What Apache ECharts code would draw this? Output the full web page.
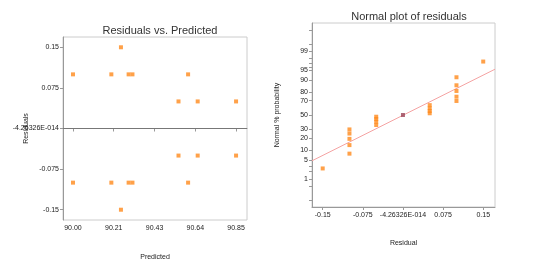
<!DOCTYPE html>
<html>
<head>
<meta charset="utf-8">
<script src="https://cdn.jsdelivr.net/npm/echarts@6/dist/echarts.min.js"></script>
<style>
  html, body { margin: 0; padding: 0; background: #fff; }
  #chart { width: 560px; height: 267px; }
</style>
</head>
<body>
<div id="chart"></div>
<script>
// residuals vs predicted (left panel)
var predicted = [90.00, 90.20, 90.25, 90.29, 90.31, 90.55, 90.60, 90.65, 90.85,
                 90.00, 90.20, 90.25, 90.29, 90.31, 90.55, 90.60, 90.65, 90.85];
var residuals = [0.10, 0.10, 0.15, 0.10, 0.10, 0.05, 0.10, 0.05, 0.05,
                 -0.10, -0.10, -0.15, -0.10, -0.10, -0.05, -0.10, -0.05, -0.05];
var predTicks = [90.00, 90.2125, 90.425, 90.6375, 90.85];
var predTickLabels = ['90.00', '90.21', '90.43', '90.64', '90.85'];
var resTicks = [-0.15, -0.075, 0, 0.075, 0.15];
var resTickLabels = ['-0.15', '-0.075', '-4.26326E-014', '0.075', '0.15'];

// normal probability plot (right panel)
var normRes = [-0.15, -0.10, -0.10, -0.10, -0.10, -0.10, -0.05, -0.05, -0.05, -0.05,
               0.05, 0.05, 0.05, 0.05, 0.10, 0.10, 0.10, 0.10, 0.10, 0.15];
var normPct = [2.6, 8.0, 13.7, 19.3, 25.0, 30.0, 35.8, 40.4, 44.2, 47.5,
               52.5, 55.8, 59.6, 64.0, 69.5, 74.7, 80.9, 86.0, 91.5, 97.4];
var midRes = [0];
var midPct = [50];
var fitRes = [-0.17, 0.172];
var fitPct = [4.8, 95.2];
var probTicks = [1, 5, 10, 20, 30, 50, 70, 80, 90, 95, 99];
var probMinor = [0.1, 0.5, 2, 3, 96, 97, 98, 99.5, 99.9];

// inverse normal cdf (Acklam) for the probability scale
function qnorm(p) {
  var a = [-39.69683028665376, 220.9460984245205, -275.9285104469687, 138.3577518672690, -30.66479806614716, 2.506628277459239];
  var b = [-54.47609879822406, 161.5858368580409, -155.6989798598866, 66.80131188771972, -13.28068155288572];
  var c = [-0.007784894002430293, -0.3223964580411365, -2.400758277161838, -2.549732539343734, 4.374664141464968, 2.938163982698783];
  var d = [0.007784695709041462, 0.3224671290700398, 2.445134137142996, 3.754408661907416];
  var pl = 0.02425, q, r;
  if (p < pl) {
    q = Math.sqrt(-2 * Math.log(p));
    return (((((c[0]*q+c[1])*q+c[2])*q+c[3])*q+c[4])*q+c[5]) / ((((d[0]*q+d[1])*q+d[2])*q+d[3])*q+1);
  }
  if (p > 1 - pl) {
    q = Math.sqrt(-2 * Math.log(1 - p));
    return -(((((c[0]*q+c[1])*q+c[2])*q+c[3])*q+c[4])*q+c[5]) / ((((d[0]*q+d[1])*q+d[2])*q+d[3])*q+1);
  }
  q = p - 0.5; r = q * q;
  return (((((a[0]*r+a[1])*r+a[2])*r+a[3])*r+a[4])*r+a[5])*q / (((((b[0]*r+b[1])*r+b[2])*r+b[3])*r+b[4])*r+1);
}
function z(pct) { return +qnorm(pct / 100).toFixed(5); }

var zTicks = probTicks.map(z);
var zAllTicks = probTicks.concat(probMinor).map(z);

function pair(xs, ys, f) {
  return xs.map(function (x, i) { return [x, f ? f(ys[i]) : ys[i]]; });
}

var tickFont = { fontSize: 7, color: '#222', fontFamily: 'Liberation Sans' };
var nameFont = { fontSize: 7, color: '#222', fontFamily: 'Liberation Sans' };
var orange = '#ff8a1c';

var option = {
  animation: false,
  backgroundColor: '#fff',
  title: [
    { text: 'Residuals vs. Predicted', left: 155, top: 20, textAlign: 'center',
      textStyle: { fontSize: 11, fontWeight: 'normal', color: '#333', fontFamily: 'Liberation Sans' } },
    { text: 'Normal plot of residuals', left: 404, top: 6, textAlign: 'center',
      textStyle: { fontSize: 11, fontWeight: 'normal', color: '#333', fontFamily: 'Liberation Sans' } }
  ],
  grid: [
    { left: 63, right: 313, top: 37, bottom: 47, show: true, borderColor: '#ccc', borderWidth: 1 },
    { left: 312, right: 65, top: 23, bottom: 60, show: true, borderColor: '#ccc', borderWidth: 1 }
  ],
  xAxis: [
    { gridIndex: 0, type: 'value', min: 89.948, max: 90.907,
      name: 'Predicted', nameLocation: 'middle', nameGap: 34, nameMoveOverlap: false, nameTextStyle: nameFont,
      axisLine: { lineStyle: { color: '#999' } },
      axisTick: { length: 3, customValues: predTicks, lineStyle: { color: '#999' } },
      axisLabel: Object.assign({ margin: 5, customValues: predTicks,
        formatter: function (v) { return predTickLabels[predTicks.indexOf(v)]; } }, tickFont),
      splitLine: { show: false } },
    { gridIndex: 1, type: 'value', min: -0.17, max: 0.172,
      name: 'Residual', nameLocation: 'middle', nameGap: 33, nameMoveOverlap: false, nameTextStyle: nameFont,
      axisLine: { onZero: false, lineStyle: { color: '#999' } },
      axisTick: { length: 3, customValues: resTicks, lineStyle: { color: '#999' } },
      axisLabel: Object.assign({ margin: 5, customValues: resTicks,
        formatter: function (v) { return resTickLabels[resTicks.indexOf(v)]; } }, tickFont),
      splitLine: { show: false } }
  ],
  yAxis: [
    { gridIndex: 0, type: 'value', min: -0.169, max: 0.169,
      name: 'Residuals', nameLocation: 'middle', nameGap: 33, nameMoveOverlap: false, nameTextStyle: nameFont,
      axisLine: { onZero: false, lineStyle: { color: '#999' } },
      axisTick: { length: 3, customValues: resTicks, lineStyle: { color: '#999' } },
      axisLabel: Object.assign({ margin: 4, customValues: resTicks,
        formatter: function (v) { return resTickLabels[resTicks.indexOf(v)]; } }, tickFont),
      splitLine: { show: false } },
    { gridIndex: 1, type: 'value', min: -3.345, max: 3.345,
      name: 'Normal % probability', nameLocation: 'middle', nameGap: 31, nameMoveOverlap: false, nameTextStyle: nameFont,
      axisLine: { onZero: false, lineStyle: { color: '#999' } },
      axisTick: { length: 3, customValues: zAllTicks, lineStyle: { color: '#999' } },
      axisLabel: Object.assign({ margin: 4, customValues: zTicks,
        formatter: function (v) { return String(probTicks[zTicks.indexOf(v)]); } }, tickFont),
      splitLine: { show: false } }
  ],
  series: [
    { type: 'scatter', xAxisIndex: 0, yAxisIndex: 0, symbol: 'rect', symbolSize: 4,
      itemStyle: { color: orange },
      data: pair(predicted, residuals),
      markLine: { silent: true, symbol: 'none', label: { show: false },
        lineStyle: { color: '#777', width: 1, type: 'solid' },
        data: [{ yAxis: 0 }] } },
    { type: 'line', xAxisIndex: 1, yAxisIndex: 1, showSymbol: false,
      lineStyle: { color: '#f5a3a3', width: 1 },
      data: pair(fitRes, fitPct, z), z: 1 },
    { type: 'scatter', xAxisIndex: 1, yAxisIndex: 1, symbol: 'rect', symbolSize: 4,
      itemStyle: { color: orange },
      data: pair(normRes, normPct, z), z: 2 },
    { type: 'scatter', xAxisIndex: 1, yAxisIndex: 1, symbol: 'rect', symbolSize: 4,
      itemStyle: { color: '#9a4358' },
      data: pair(midRes, midPct, z), z: 2 }
  ]
};

var myChart = echarts.init(document.getElementById('chart'));
myChart.setOption(option);
</script>
</body>
</html>
